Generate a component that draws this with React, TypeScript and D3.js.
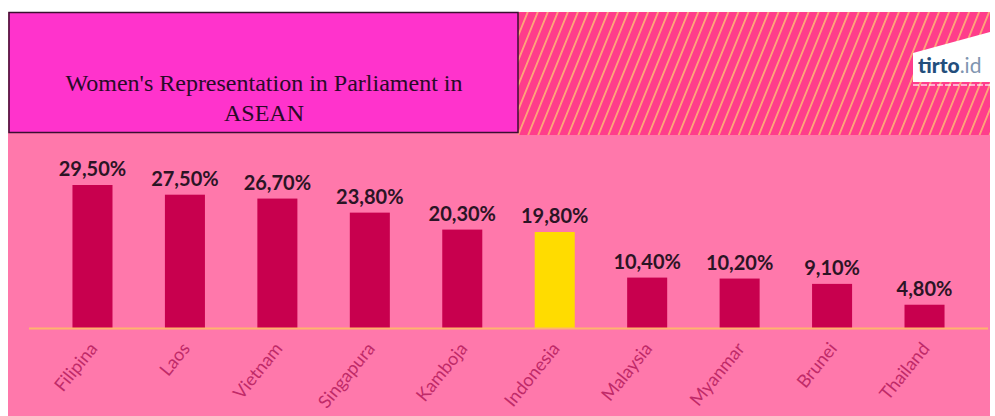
import React from "react";
import * as d3 from "d3";

const categories = ["Filipina", "Laos", "Vietnam", "Singapura", "Kamboja", "Indonesia", "Malaysia", "Myanmar", "Brunei", "Thailand"];
const values = [29.5, 27.5, 26.7, 23.8, 20.3, 19.8, 10.4, 10.2, 9.1, 4.8];
const highlight = "Indonesia";
const titleLines = ["Women's Representation in Parliament in", "ASEAN"];

const W = 995;
const H = 416;

export default function App() {
  const x = d3
    .scaleBand<string>()
    .domain(categories)
    .range([46.3, 970.7])
    .paddingInner(0.567)
    .paddingOuter(0.283);
  const y = d3.scaleLinear().domain([0, 29.5]).range([328, 185]);
  const fmt = (v: number) => v.toFixed(2).replace(".", ",") + "%";

  return (
    <svg
      width={W}
      height={H}
      style={{ position: "absolute", left: 0, top: 0, background: "#ffffff" }}
      xmlns="http://www.w3.org/2000/svg"
    >
      <defs>
        <pattern id="stripes" width="9.3" height="20" patternUnits="userSpaceOnUse" patternTransform="rotate(22)">
          <rect width="9.3" height="20" fill="#ff3d8b" />
          <rect x="0" width="1.8" height="20" fill="#ffa57a" />
        </pattern>
      </defs>
      {/* pink background */}
      <rect x={8} y={12} width={982} height={H - 12} fill="#ff78ab" />
      {/* striped header */}
      <rect x={518} y={12} width={472} height={123} fill="url(#stripes)" />
      {/* logo */}
      <polygon points="913,53 990,32 990,82 913,82" fill="#ffffff" />
      <line x1={913} x2={990} y1={85} y2={85} stroke="#ffffff" strokeWidth={1.5} strokeDasharray="6 2" opacity={0.8} />
      <text x={918} y={73} fontFamily="Lato, sans-serif" fontSize={21} fontWeight={900} fill="#234e7c">
        tirto
        <tspan fontWeight={400} fill="#8095b0">.id</tspan>
      </text>
      {/* title box */}
      <rect x={9} y={12.5} width={509} height={120} fill="#ff33cc" stroke="#3a0f30" strokeWidth={1.5} />
      {titleLines.map((t, i) => (
        <text
          key={t}
          x={264}
          y={91 + i * 30}
          textAnchor="middle"
          fontFamily="'Liberation Serif', 'Times New Roman', serif"
          fontSize={24}
          fill="#2a0a28"
        >
          {t}
        </text>
      ))}
      {/* bars */}
      {categories.map((c, i) => (
        <rect
          key={c}
          x={x(c)}
          y={y(values[i])}
          width={x.bandwidth()}
          height={y(0) - y(values[i])}
          fill={c === highlight ? "#ffdc00" : "#c8004e"}
        />
      ))}
      {/* baseline */}
      <line x1={29} x2={988} y1={328.5} y2={328.5} stroke="#ffb36e" strokeWidth={2} />
      {/* value labels */}
      {categories.map((c, i) => (
        <text
          key={c + "v"}
          x={(x(c) as number) + x.bandwidth() / 2}
          y={y(values[i]) - 9}
          textAnchor="middle"
          fontFamily="Lato, sans-serif"
          fontWeight={700}
          fontSize={20}
          fill="#2b1425"
        >
          {fmt(values[i])}
        </text>
      ))}
      {/* category labels */}
      {categories.map((c) => {
        const cx = (x(c) as number) + x.bandwidth() / 2 + 6;
        const cy = 349;
        return (
          <text
            key={c + "c"}
            transform={`translate(${cx},${cy}) rotate(-51)`}
            textAnchor="end"
            fontFamily="Lato, sans-serif"
            fontSize={18}
            fill="#c02a68"
          >
            {c}
          </text>
        );
      })}
    </svg>
  );
}
